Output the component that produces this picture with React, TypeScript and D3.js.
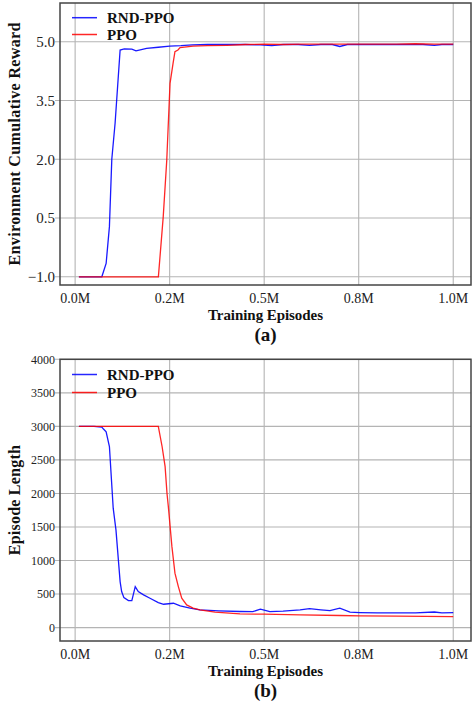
import React from "react";
import * as d3 from "d3";

// x values in millions of training episodes
const rewardRndX = [0.01, 0.03, 0.05, 0.0706, 0.082, 0.0907, 0.097, 0.1057, 0.119, 0.13, 0.15, 0.161, 0.175, 0.189, 0.22, 0.25, 0.28, 0.31, 0.35, 0.40, 0.45, 0.49, 0.52, 0.55, 0.59, 0.62, 0.65, 0.68, 0.70, 0.72, 0.76, 0.80, 0.84, 0.88, 0.92, 0.95, 0.97, 1.0];
const rewardRndY = [-1, -1, -1, -1, -0.66, 0.28, 2.0, 2.92, 4.79, 4.82, 4.81, 4.77, 4.8, 4.83, 4.86, 4.89, 4.9, 4.92, 4.93, 4.93, 4.93, 4.92, 4.9, 4.93, 4.93, 4.91, 4.93, 4.93, 4.88, 4.93, 4.93, 4.93, 4.93, 4.93, 4.93, 4.91, 4.93, 4.93];

const rewardPpoX = [0.01, 0.05, 0.1, 0.15, 0.2, 0.2202, 0.233, 0.2424, 0.251, 0.259, 0.264, 0.272, 0.2775, 0.312, 0.35, 0.401, 0.45, 0.5, 0.55, 0.6, 0.65, 0.7, 0.75, 0.8, 0.85, 0.9, 0.95, 1.0];
const rewardPpoY = [-1, -1, -1, -1, -1, -1, 0.53, 1.98, 3.94, 4.45, 4.75, 4.79, 4.85, 4.89, 4.9, 4.91, 4.93, 4.94, 4.93, 4.94, 4.94, 4.94, 4.94, 4.94, 4.94, 4.95, 4.94, 4.94];

const lengthRndX = [0.01, 0.05, 0.0706, 0.075, 0.082, 0.0907, 0.1007, 0.108, 0.119, 0.123, 0.129, 0.141, 0.15, 0.159, 0.167, 0.181, 0.198, 0.22, 0.234, 0.26, 0.278, 0.304, 0.33, 0.38, 0.436, 0.47, 0.49, 0.515, 0.55, 0.595, 0.62, 0.65, 0.674, 0.70, 0.727, 0.753, 0.8, 0.85, 0.9, 0.95, 0.97, 1.0];
const lengthRndY = [3000, 3000, 2990, 2960, 2920, 2700, 1780, 1456, 686, 537, 447, 402, 401, 611, 537, 487, 438, 373, 348, 363, 323, 289, 264, 250, 240, 238, 274, 238, 245, 264, 283, 265, 253, 289, 229, 224, 220, 218, 220, 232, 220, 224];

const lengthPpoX = [0.01, 0.05, 0.1, 0.15, 0.2, 0.22, 0.23, 0.238, 0.243, 0.2466, 0.256, 0.264, 0.273, 0.282, 0.295, 0.312, 0.33, 0.37, 0.436, 0.5, 0.595, 0.7, 0.753, 0.85, 1.0];
const lengthPpoY = [3000, 3000, 3000, 3000, 3000, 3000, 2700, 2400, 2000, 1800, 1207, 811, 611, 438, 338, 289, 264, 229, 204, 200, 189, 180, 174, 170, 164];

const xTickValues = [0, 0.25, 0.5, 0.75, 1.0];
const xTickLabels = ["0.0M", "0.2M", "0.5M", "0.8M", "1.0M"];
const rewardTicks = [-1, 0.5, 2, 3.5, 5];
const lengthTicks = [0, 500, 1000, 1500, 2000, 2500, 3000, 3500, 4000];
const seriesNames = ["RND-PPO", "PPO"];
const seriesColors = ["#0000ff", "#ff0000"];

const W = 473;
const H = 707;
const LEFT = 60;
const RIGHT = 471;
const SERIF = "Liberation Serif, DejaVu Serif, serif";

type PanelProps = {
  top: number;
  bottom: number;
  yDomain: [number, number];
  yTicks: number[];
  yFormat: (v: number) => string;
  yFont: number;
  series: { x: number[]; y: number[] }[];
  yTitle: string;
  yTitleLen: number;
  caption: string;
  legendY: number;
  legendGap: number;
};

const txt = (size: number, bold = false): React.CSSProperties => ({
  fontFamily: SERIF,
  fontSize: size,
  fontWeight: bold ? 700 : 400,
});

function Panel(p: PanelProps) {
  const x = d3.scaleLinear().domain([-0.04, 1.047]).range([LEFT, RIGHT]);
  const y = d3.scaleLinear().domain(p.yDomain).range([p.bottom, p.top]);
  const line = d3
    .line<[number, number]>()
    .x((d) => x(d[0]))
    .y((d) => y(d[1]));
  const midX = (LEFT + RIGHT) / 2;
  const midY = (p.top + p.bottom) / 2;
  return (
    <g>
      {xTickValues.map((v, i) => (
        <line key={"gx" + i} x1={x(v)} x2={x(v)} y1={p.top} y2={p.bottom} stroke="#b4b4b4" strokeWidth={1.1} />
      ))}
      {p.yTicks.map((v, i) => (
        <line key={"gy" + i} x1={LEFT - 5} x2={RIGHT} y1={y(v)} y2={y(v)} stroke="#b4b4b4" strokeWidth={1.1} />
      ))}
      {p.series.map((s, i) => (
        <path
          key={"s" + i}
          d={line(s.x.map((xv, j) => [xv, s.y[j]] as [number, number])) || ""}
          fill="none"
          stroke={seriesColors[i]}
          strokeWidth={1.3}
          strokeOpacity={i === 1 ? 0.85 : 0.9}
        />
      ))}
      <rect x={LEFT} y={p.top} width={RIGHT - LEFT} height={p.bottom - p.top} fill="none" stroke="#444" strokeWidth={1.5} />
      {p.yTicks.map((v, i) => (
        <text key={"yl" + i} x={LEFT - 5} y={y(v)} dy="0.35em" textAnchor="end" style={txt(p.yFont)} fill="#222">
          {p.yFormat(v)}
        </text>
      ))}
      {xTickValues.map((v, i) => (
        <text key={"xl" + i} x={x(v)} y={p.bottom + 18} textAnchor="middle" style={txt(14)} fill="#222">
          {xTickLabels[i]}
        </text>
      ))}
      <text x={midX} y={p.bottom + 34.5} textAnchor="middle" style={txt(15, true)} fill="#111" textLength={115} lengthAdjust="spacing">
        Training Episodes
      </text>
      <text x={midX} y={p.bottom + 56} textAnchor="middle" style={txt(19, true)} fill="#111">
        {p.caption}
      </text>
      <text
        transform={`translate(20,${midY}) rotate(-90)`}
        textAnchor="middle"
        style={txt(16, true)}
        fill="#111"
        textLength={p.yTitleLen}
        lengthAdjust="spacing"
      >
        {p.yTitle}
      </text>
      {seriesNames.map((name, i) => (
        <g key={"lg" + i}>
          <line x1={72} x2={97} y1={p.legendY + i * p.legendGap} y2={p.legendY + i * p.legendGap} stroke={seriesColors[i]} strokeWidth={1.5} strokeOpacity={0.85} />
          <text x={107} y={p.legendY + i * p.legendGap} dy="0.35em" style={txt(15, true)} fill="#111">
            {name}
          </text>
        </g>
      ))}
    </g>
  );
}

export default function App() {
  const fmtReward = (v: number) => v.toFixed(1).replace("-", "\u2212");
  const fmtLength = (v: number) => String(v);
  return (
    <svg width={W} height={H} style={{ position: "absolute", left: 0, top: 0, background: "#fff" }}>
      <rect width={W} height={H} fill="#fff" />
      <Panel
        top={3}
        bottom={285}
        yDomain={[-1.21, 5.99]}
        yTicks={rewardTicks}
        yFormat={fmtReward}
        yFont={15}
        series={[
          { x: rewardRndX, y: rewardRndY },
          { x: rewardPpoX, y: rewardPpoY },
        ]}
        yTitle="Environment Cumulative Reward"
        yTitleLen={243}
        caption="(a)"
        legendY={17.7}
        legendGap={16.8}
      />
      <Panel
        top={359.3}
        bottom={641}
        yDomain={[-200, 4000]}
        yTicks={lengthTicks}
        yFormat={fmtLength}
        yFont={12}
        series={[
          { x: lengthRndX, y: lengthRndY },
          { x: lengthPpoX, y: lengthPpoY },
        ]}
        yTitle="Episode Length"
        yTitleLen={110}
        caption="(b)"
        legendY={374.5}
        legendGap={18}
      />
    </svg>
  );
}
